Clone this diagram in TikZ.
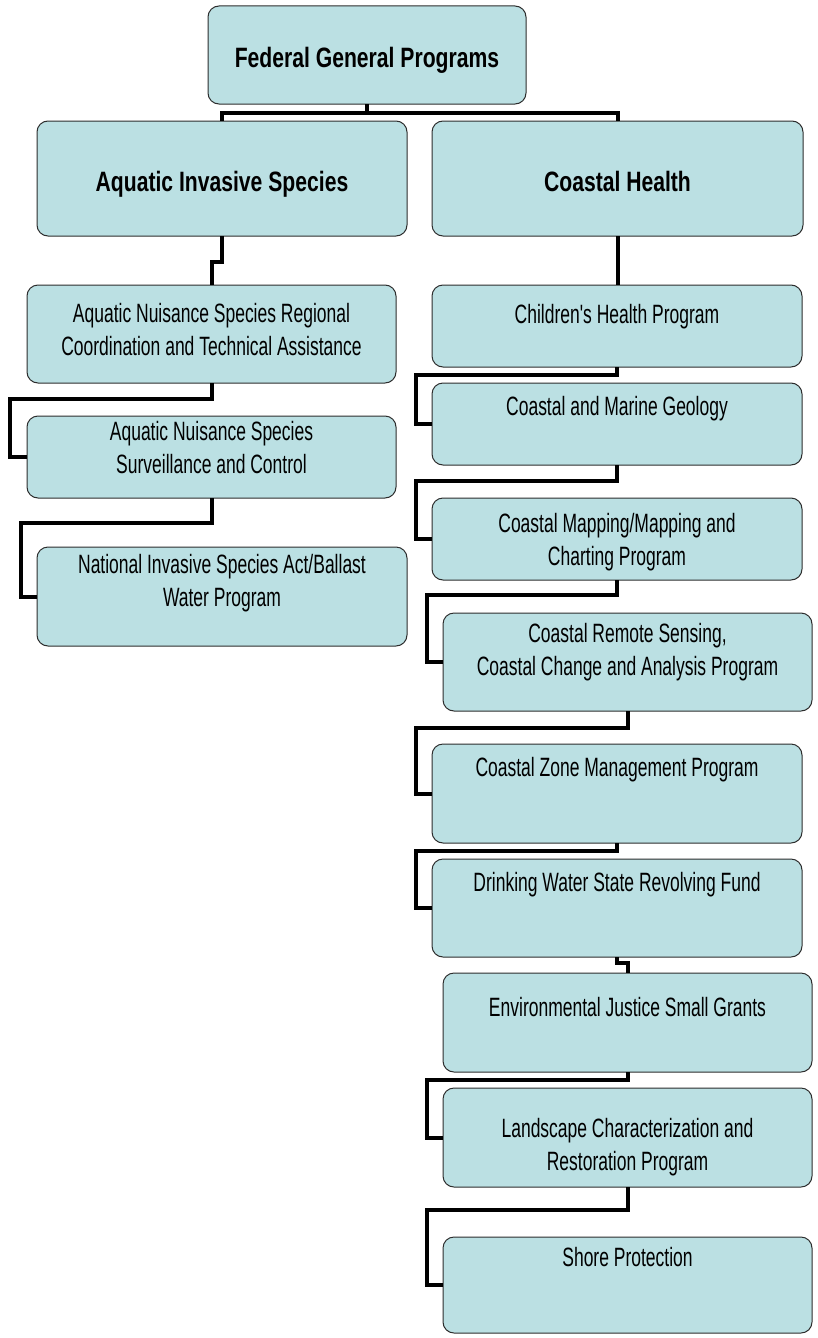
\documentclass[tikz,border=0pt]{standalone}
\usepackage{fontspec}
\setmainfont{Liberation Sans}
\newfontfamily\boxfont[FakeStretch=0.66]{Liberation Sans}
\newfontfamily\headfont[FakeStretch=0.755]{Liberation Sans}
\usetikzlibrary{calc}
\definecolor{boxfill}{RGB}{187,224,227}
\definecolor{boxline}{RGB}{45,45,45}

\begin{document}
\begin{tikzpicture}[x=1pt,y=-1pt,
  box/.style={draw=boxline, line width=1pt, fill=boxfill, rounded corners=11pt,
              inner sep=0pt, outer sep=0pt},
  txt/.style={font=\boxfont\fontsize{26.5}{33}\selectfont, align=center,
              inner sep=0pt, anchor=base},
  head/.style={font=\headfont\bfseries\fontsize{28}{33}\selectfont,
               inner sep=0pt, anchor=base},
  conn/.style={draw=black, line width=4pt, line join=miter}]

\useasboundingbox (0,0) rectangle (817,1338);

% --- boxes: centre, width, height
\node[box, minimum width=318, minimum height=98]  (top) at (367,55) {};
\node[box, minimum width=370, minimum height=115] (ais) at (222,178.5) {};
\node[box, minimum width=371, minimum height=115] (ch)  at (617.5,178.5) {};

\node[box, minimum width=369, minimum height=98] (a1) at (211.5,334) {};
\node[box, minimum width=369, minimum height=82] (a2) at (211.5,457) {};
\node[box, minimum width=370, minimum height=99] (a3) at (222,596.5) {};

\node[box, minimum width=370, minimum height=82] (c1) at (617,326) {};
\node[box, minimum width=370, minimum height=82] (c2) at (617,424) {};
\node[box, minimum width=370, minimum height=82] (c3) at (617,539) {};
\node[box, minimum width=369, minimum height=98] (c4) at (627.5,662) {};
\node[box, minimum width=370, minimum height=99] (c5) at (617,793.5) {};
\node[box, minimum width=370, minimum height=98] (c6) at (617,908) {};
\node[box, minimum width=369, minimum height=99] (c7) at (627.5,1022.5) {};
\node[box, minimum width=369, minimum height=99] (c8) at (627.5,1137.5) {};
\node[box, minimum width=369, minimum height=96] (c9) at (627.5,1285) {};

% --- labels (placed on the baseline of their last line)
\node[head] (ttop) at (367,67)  {Federal General Programs};
\node[head] (tais) at (222,191) {Aquatic Invasive Species};
\node[head] (tch)  at (617.5,191) {Coastal Health};

\node[txt] (ta1) at (211.5,355) {Aquatic Nuisance Species Regional\\Coordination and Technical Assistance};
\node[txt] (ta2) at (211.5,473) {Aquatic Nuisance Species\\Surveillance and Control};
\node[txt] (ta3) at (222,606)   {National Invasive Species Act/Ballast\\Water Program};

\node[txt] (tc1) at (617,323)    {Children's Health Program};
\node[txt] (tc2) at (617,415)    {Coastal and Marine Geology};
\node[txt] (tc3) at (617,565)    {Coastal Mapping/Mapping and\\Charting Program};
\node[txt] (tc4) at (627.5,675)  {Coastal Remote Sensing,\\Coastal Change and Analysis Program};
\node[txt] (tc5) at (617,776)    {Coastal Zone Management Program};
\node[txt] (tc6) at (617,891)    {Drinking Water State Revolving Fund};
\node[txt] (tc7) at (627.5,1016) {Environmental Justice Small Grants};
\node[txt] (tc8) at (627.5,1170) {Landscape Characterization and\\Restoration Program};
\node[txt] (tc9) at (627.5,1266) {Shore Protection};

% --- connectors
\draw[conn] (top.south) -- ++(0,9) -| (ais.north);
\draw[conn] (top.south) -- ++(0,9) -| (ch.north);

\draw[conn] (ais.south) -- ++(0,26) -| (a1.north);
\draw[conn] (a1.south) -- ++(0,16) -| ($(a2.west)+(-17,0)$) -- (a2.west);
\draw[conn] (a2.south) -- ++(0,25) -| ($(a3.west)+(-16,0)$) -- (a3.west);

\draw[conn] (ch.south) -- (ch.south |- c1.north);
\draw[conn] (c1.south) -- ++(0,8)  -| ($(c2.west)+(-16,0)$) -- (c2.west);
\draw[conn] (c2.south) -- ++(0,16) -| ($(c3.west)+(-16,0)$) -- (c3.west);
\draw[conn] (c3.south) -- ++(0,15) -| ($(c4.west)+(-16,0)$) -- (c4.west);
\draw[conn] (c4.south) -- ++(0,17) -| ($(c5.west)+(-16,0)$) -- (c5.west);
\draw[conn] (c5.south) -- ++(0,8)  -| ($(c6.west)+(-16,0)$) -- (c6.west);
\draw[conn] (c6.south) -- ++(0,6)  -| (c7.north);
\draw[conn] (c7.south) -- ++(0,8)  -| ($(c8.west)+(-16,0)$) -- (c8.west);
\draw[conn] (c8.south) -- ++(0,23) -| ($(c9.west)+(-16,0)$) -- (c9.west);

\end{tikzpicture}
\end{document}
